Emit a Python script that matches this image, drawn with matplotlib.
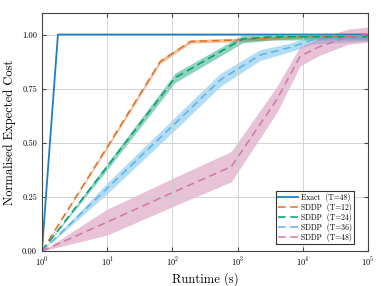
import matplotlib.pyplot as plt
import numpy as np

plt.rcParams['font.family'] = 'serif'
plt.rcParams['font.serif'] = ['cmr10', 'DejaVu Serif']
plt.rcParams['mathtext.fontset'] = 'cm'
plt.rcParams['axes.formatter.use_mathtext'] = True

# runtime (s) and normalised expected cost
exact_t = [1, 1.76, 1e5]
exact_v = [0.0, 1.0, 1.0]

sddp12_t = [1, 10, 65, 190, 1000, 1e4, 1e5]
sddp12_v = [0.0, 0.48, 0.875, 0.968, 0.975, 0.99, 0.99]
sddp12_s = [0.0, 0.008, 0.01, 0.008, 0.008, 0.008, 0.008]

sddp24_t = [1, 10, 110, 1200, 3500, 1e4, 1e5]
sddp24_v = [0.0, 0.39, 0.80, 0.98, 0.99, 0.99, 0.99]
sddp24_s = [0.0, 0.015, 0.022, 0.018, 0.015, 0.015, 0.015]

sddp36_t = [1, 10, 130, 540, 2200, 6300, 14000, 1e5]
sddp36_v = [0.0, 0.29, 0.61, 0.79, 0.905, 0.94, 0.975, 0.99]
sddp36_s = [0.0, 0.025, 0.03, 0.03, 0.025, 0.02, 0.02, 0.02]

sddp48_t = [1, 10, 100, 800, 4000, 9100, 18000, 50000, 1e5]
sddp48_v = [0.0, 0.134, 0.27, 0.39, 0.70, 0.90, 0.944, 0.99, 1.0]
sddp48_s = [0.0, 0.06, 0.065, 0.07, 0.06, 0.045, 0.04, 0.035, 0.035]

labels = ['Exact  (T=48)', 'SDDP  (T=12)', 'SDDP  (T=24)', 'SDDP  (T=36)', 'SDDP  (T=48)']
colors = ['#1f7fbf', '#E07020', '#009E73', '#56B4E9', '#CC79A7']

fig = plt.figure(figsize=(3.81, 2.86), dpi=100)
ax = fig.add_axes([0.110, 0.122, 0.856, 0.833])

ax.plot(exact_t, exact_v, color=colors[0], lw=1.3, label=labels[0])

series = [(sddp12_t, sddp12_v, sddp12_s), (sddp24_t, sddp24_v, sddp24_s),
          (sddp36_t, sddp36_v, sddp36_s), (sddp48_t, sddp48_v, sddp48_s)]
for i, (t, v, s) in enumerate(series):
    v = np.array(v)
    s = np.array(s)
    ax.fill_between(t, v - s, v + s, color=colors[i + 1], alpha=0.45, lw=0)
    ax.plot(t, v, color=colors[i + 1], lw=1.1, ls=(0, (5, 3)), label=labels[i + 1])

ax.set_xscale('log')
ax.set_xlim(1, 1e5)
ax.set_ylim(0, 1.1)
ax.set_yticks([0, 0.25, 0.5, 0.75, 1.0])
ax.set_yticklabels(['0.00', '0.25', '0.50', '0.75', '1.00'])
ax.set_xticks([1, 10, 100, 1e3, 1e4, 1e5])
ax.xaxis.set_minor_locator(plt.NullLocator())
ax.tick_params(direction='in', top=True, right=True, labelsize=6, length=3, color='#444444')
ax.grid(True, color='#cccccc', lw=0.6)
for sp in ax.spines.values():
    sp.set_color('#444444')

ax.set_xlabel('Runtime (s)', fontsize=9, labelpad=2)
ax.set_ylabel('Normalised Expected Cost', fontsize=9, labelpad=4)

leg = ax.legend(loc='lower right', fontsize=5.5, handlelength=2.6, fancybox=False,
                edgecolor='#333333', framealpha=1, borderpad=0.3, labelspacing=0.12,
                handletextpad=0.4, borderaxespad=0, bbox_to_anchor=(0.957, 0.03))
leg.get_frame().set_linewidth(0.8)

fig.savefig('out.png', dpi=100)
